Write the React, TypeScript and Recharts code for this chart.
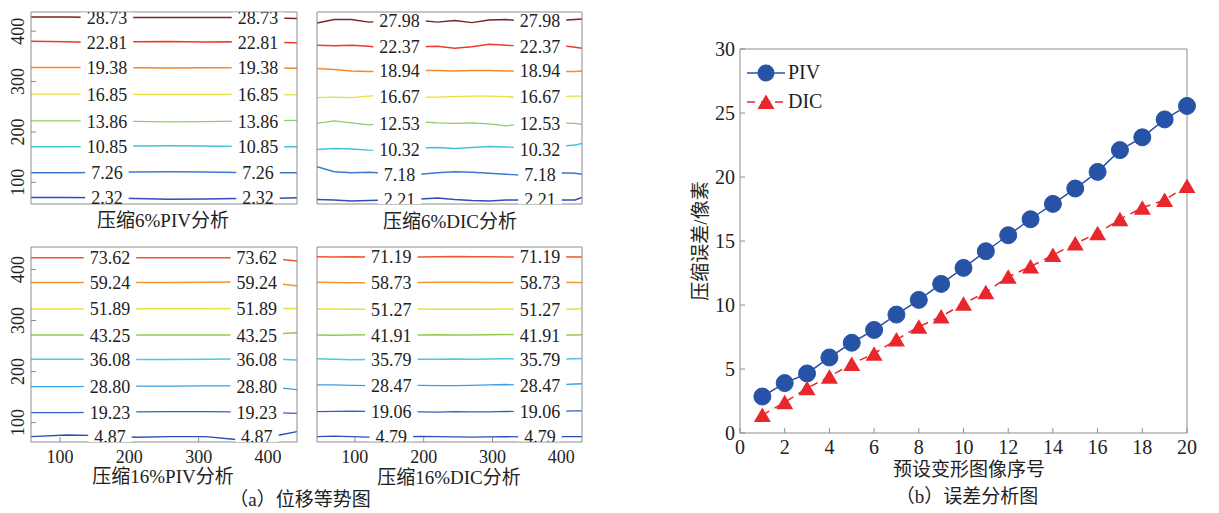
import React from "react";
import { ComposedChart, Line, LineChart, Scatter, XAxis, YAxis } from "recharts";

const W = 1219;
const H = 513;
const SERIF = '"Liberation Serif", "Times New Roman", serif';
const CAPTION_FONT = '"Liberation Serif", "Noto Sans CJK SC", serif';
const AXIS_STROKE = "#8c8c8c";
const TEXT_FILL = "#222";

// ---- (b) error analysis ----
const frames = [1, 2, 3, 4, 5, 6, 7, 8, 9, 10, 11, 12, 13, 14, 15, 16, 17, 18, 19, 20];
const pivError = [2.85, 3.9, 4.65, 5.9, 7.05, 8.05, 9.25, 10.4, 11.65, 12.9, 14.2, 15.45, 16.7, 17.9, 19.1, 20.4, 22.1, 23.1, 24.5, 25.55];
const dicError = [1.4, 2.4, 3.5, 4.4, 5.4, 6.2, 7.3, 8.3, 9.1, 10.1, 11.0, 12.2, 13.0, 13.9, 14.8, 15.6, 16.7, 17.6, 18.2, 19.3];
const errorXTicks = [0, 2, 4, 6, 8, 10, 12, 14, 16, 18, 20];
const errorYTicks = [0, 5, 10, 15, 20, 25, 30];

// ---- (a) contour panels ----
const contourTicks = [100, 200, 300, 400];
const xs17 = [45, 70, 95, 120, 145, 170, 195, 220, 245, 270, 295, 320, 345, 370, 395, 420, 430];

// 6% PIV
const piv6X = [48, 100, 150, 200, 250, 300, 350, 400, 437];
const piv6Levels = ["2.32", "7.26", "10.85", "13.86", "16.85", "19.38", "22.81", "28.73"];
const piv6Lines = [
  [70, 70, 69.5, 68, 66.5, 67, 68, 68, 69.5],
  [119, 119, 119.5, 120.5, 121, 120.5, 119.5, 119, 119],
  [170.5, 170.5, 171, 172, 172.5, 172, 171, 170.5, 170.5],
  [222, 222, 222, 221, 220, 220.5, 221.5, 222.5, 223],
  [275, 275, 275, 274.5, 274.5, 274.5, 274.5, 274, 273.5],
  [328, 328, 328, 327.5, 327, 327.5, 327.5, 327, 326.5],
  [380, 379, 377, 379, 379.5, 378.5, 379, 378, 377],
  [428, 428, 427, 427, 427, 427, 427, 426, 425],
];
const piv6LabelX = [159, 380];
const piv6LabelY = [69, 119, 171, 221, 275, 328, 378, 427];

// 6% DIC
const dic6Levels = ["2.21", "7.18", "10.32", "12.53", "16.67", "18.94", "22.37", "27.98"];
const dic6Lines = [
  [66, 65, 63, 64, 65, 64, 67, 69, 66, 64, 63, 65, 65, 65, 65, 65, 70],
  [131, 121, 119, 120, 118, 114, 116, 119, 121, 120, 118, 116, 114, 115, 119, 118, 116],
  [165, 167, 166, 164, 163, 165, 168, 169, 167, 169, 171, 170, 169, 169, 171, 174, 177],
  [217, 222, 218, 214, 217, 217, 220, 218, 217, 218, 216, 212, 217, 217, 218, 217, 215],
  [268, 269, 268, 271, 273, 271, 269, 269, 270, 271, 271, 270, 268, 269, 270, 271, 271],
  [326, 324, 321, 320, 320, 321, 322, 322, 321, 322, 322, 321, 321, 321, 320, 320, 321],
  [372, 371, 372, 370, 366, 368, 369, 370, 366, 369, 374, 372, 370, 371, 372, 368, 366],
  [416, 423, 423, 418, 420, 421, 421, 418, 421, 417, 422, 423, 420, 421, 421, 423, 424],
];
const dic6LabelX = [165, 369];
const dic6LabelY = [66, 116, 166, 217, 270, 321, 369, 421];

// 16% PIV
const piv16X = [58, 110, 160, 210, 260, 310, 350, 365, 417, 442];
const piv16Levels = ["4.87", "19.23", "28.80", "36.08", "43.25", "51.89", "59.24", "73.62"];
const piv16Lines = [
  [72.5, 75.8, 74.4, 71.2, 72.5, 72.5, 67.3, 64.7, 75.8, 82.3],
  [119.5, 119.5, 120, 121, 121.5, 121.5, 121, 120.5, 119, 118],
  [170.4, 170.5, 171, 171.5, 171.5, 172, 172, 172, 168, 164.5],
  [224, 224, 224, 223.5, 223.5, 224, 224.5, 225, 224, 222.5],
  [271.5, 271.5, 271.5, 271.5, 271.5, 271.5, 271.5, 272, 274, 276],
  [322.4, 322.6, 323, 323, 323, 323, 323.5, 323.5, 323.5, 323.5],
  [374.6, 374.6, 374.6, 374.6, 374.6, 375, 375.5, 376, 372, 367.5],
  [422.8, 422.8, 422.8, 423, 423, 423, 423, 423, 420, 416.5],
];
const piv16LabelX = [172, 384];
const piv16LabelY = [72, 119.5, 171, 224, 271.5, 323, 375, 423];

// 16% DIC
const dic16Levels = ["4.79", "19.06", "28.47", "35.79", "41.91", "51.27", "58.73", "71.19"];
const dic16Lines = [
  [72.5, 73.5, 72.5, 71.5, 72, 72, 73, 72.5, 72, 71.5, 72, 72.5, 72, 72, 72.5, 72.5, 72.5],
  [121.5, 122, 122.5, 122, 121.5, 122, 121, 120.5, 121.5, 121, 121, 122, 121.5, 121.5, 122, 123, 123],
  [174, 174, 173, 172.5, 173, 173.5, 173, 172.5, 172.5, 173, 174, 174.5, 173.5, 174, 174, 175.5, 176],
  [225, 224, 223, 223.5, 224, 224, 224, 224, 224.5, 224, 224.5, 225, 224.5, 224.5, 224, 225, 225.5],
  [271.5, 271, 271.5, 272, 272, 271.5, 271.5, 272, 271.5, 271.5, 272, 272.5, 272, 271.5, 271.5, 271.5, 272],
  [322.5, 322.5, 322, 322, 322.5, 322.5, 322.5, 322, 322, 322, 322, 322.5, 322.5, 322.5, 322.5, 322, 323.5],
  [375, 374.5, 374, 374, 374.5, 374.5, 374.5, 375, 375, 375, 374.5, 374.5, 374.5, 375, 375, 374.5, 374.5],
  [425, 424.5, 425, 424.5, 424.5, 424.5, 424.5, 425, 425.5, 425, 425, 424.5, 424.5, 425, 425, 424.5, 424.5],
];
const dic16LabelX = [153, 369];
const dic16LabelY = [73, 121.5, 173.5, 224, 271.5, 322.5, 374.5, 424.5];

const COLORS_6 = ["#2c4fb8", "#3a78d4", "#45c2e0", "#8ccd66", "#e6df3c", "#f58a30", "#ee3a2a", "#7a2323"];
const COLORS_16 = ["#2c4fb8", "#2f62c8", "#3aa0e6", "#4cc8e2", "#92cc4e", "#e8e040", "#f59232", "#f0552c"];

const PIV_BLUE = "#2753a6";
const DIC_RED = "#e8262b";

function RotatedTick(props: any) {
  const { y, payload } = props;
  return (
    <text
      transform={`translate(18,${y}) rotate(-90)`}
      textAnchor="middle"
      dominantBaseline="central"
      fontSize={18}
      fontFamily={SERIF}
      fill={TEXT_FILL}
    >
      {payload.value}
    </text>
  );
}

function ContourLabel(props: any) {
  const { cx, cy, payload } = props;
  const w = (payload.t.length - 1) * 9 + 4.5 + 12;
  return (
    <g>
      <rect x={cx - w / 2} y={cy - 5} width={w} height={10} fill="#ffffff" />
      <text x={cx} y={cy + 0.5} textAnchor="middle" dominantBaseline="central" fontSize={18} fontFamily={SERIF} fill={TEXT_FILL}>
        {payload.t}
      </text>
    </g>
  );
}

interface Box {
  left: number;
  top: number;
  right: number;
  bottom: number;
}

interface ContourPanelProps {
  box: Box;
  xDomain: [number, number];
  yDomain: [number, number];
  xs: number[];
  lines: number[][];
  levels: string[];
  labelX: number[];
  labelY: number[];
  colors: string[];
  showXLabels: boolean;
  showYLabels: boolean;
}

function ContourPanel({ box, xDomain, yDomain, xs, lines, levels, labelX, labelY, colors, showXLabels, showYLabels }: ContourPanelProps) {
  const labels = levels.flatMap((t, i) => labelX.map((x) => ({ x, y: labelY[i], t })));
  return (
    <div style={{ position: "absolute", left: 0, top: 0 }}>
      <ComposedChart
        width={W}
        height={H}
        margin={{ top: box.top - 1, left: box.left - 1, right: W - box.right - 1, bottom: H - box.bottom - 1 }}
      >
        <XAxis
          xAxisId="b"
          type="number"
          dataKey="x"
          domain={xDomain}
          allowDataOverflow
          ticks={contourTicks}
          height={1}
          tickSize={-5}
          tickMargin={13}
          stroke={AXIS_STROKE}
          tick={showXLabels ? { fill: TEXT_FILL, fontSize: 18, fontFamily: SERIF } : false}
        />
        <XAxis xAxisId="t" orientation="top" type="number" dataKey="x" domain={xDomain} allowDataOverflow ticks={contourTicks} height={1} tickSize={-5} stroke={AXIS_STROKE} tick={false} />
        <YAxis
          yAxisId="l"
          type="number"
          dataKey="y"
          domain={yDomain}
          allowDataOverflow
          ticks={contourTicks}
          width={1}
          tickSize={-5}
          stroke={AXIS_STROKE}
          tick={showYLabels ? <RotatedTick /> : false}
        />
        <YAxis yAxisId="r" orientation="right" type="number" dataKey="y" domain={yDomain} allowDataOverflow ticks={contourTicks} width={1} tickSize={-5} stroke={AXIS_STROKE} tick={false} />
        {lines.map((ys, i) => (
          <Line
            key={levels[i]}
            xAxisId="b"
            yAxisId="l"
            data={xs.map((x, j) => ({ x, y: ys[j] }))}
            dataKey="y"
            stroke={colors[i]}
            strokeWidth={1.4}
            dot={false}
            isAnimationActive={false}
          />
        ))}
        <Scatter xAxisId="b" yAxisId="l" data={labels} dataKey="y" shape={ContourLabel} isAnimationActive={false} />
      </ComposedChart>
    </div>
  );
}

function TriangleDot(props: any) {
  const { cx, cy, index } = props;
  if (cx == null || cy == null) return null;
  return <polygon key={index} points={`${cx},${cy - 7.5} ${cx - 8.5},${cy + 7} ${cx + 8.5},${cy + 7}`} fill={DIC_RED} />;
}

function ErrorChart() {
  const data = frames.map((frame, i) => ({ frame, piv: pivError[i], dic: dicError[i] }));
  const plot = { left: 740, top: 49, right: 1187, bottom: 433 };
  return (
    <div style={{ position: "absolute", left: 0, top: 0 }}>
      <LineChart
        width={W}
        height={H}
        data={data}
        margin={{ top: plot.top - 1, left: plot.left - 1, right: W - plot.right - 1, bottom: H - plot.bottom - 1 }}
      >
        <XAxis
          xAxisId="b"
          type="number"
          dataKey="frame"
          domain={[0, 20]}
          ticks={errorXTicks}
          height={1}
          tickSize={-5}
          tickMargin={12}
          stroke={AXIS_STROKE}
          tick={{ fill: TEXT_FILL, fontSize: 20, fontFamily: SERIF }}
        />
        <XAxis xAxisId="t" orientation="top" type="number" dataKey="frame" domain={[0, 20]} allowDataOverflow ticks={errorXTicks} height={1} tickSize={-5} stroke={AXIS_STROKE} tick={false} />
        <YAxis
          yAxisId="l"
          type="number"
          domain={[0, 30]}
          ticks={errorYTicks}
          width={1}
          tickSize={-5}
          tickMargin={10}
          stroke={AXIS_STROKE}
          tick={{ fill: TEXT_FILL, fontSize: 20, fontFamily: SERIF }}
        />
        <YAxis yAxisId="r" orientation="right" type="number" domain={[0, 30]} allowDataOverflow ticks={errorYTicks} width={1} tickSize={-5} stroke={AXIS_STROKE} tick={false} />
        <Line
          xAxisId="b"
          yAxisId="l"
          dataKey="piv"
          stroke={PIV_BLUE}
          strokeWidth={1.5}
          dot={{ r: 8.5, fill: PIV_BLUE, stroke: PIV_BLUE, strokeWidth: 1 }}
          isAnimationActive={false}
        />
        <Line
          xAxisId="b"
          yAxisId="l"
          dataKey="dic"
          stroke={DIC_RED}
          strokeWidth={1.5}
          strokeDasharray="8 6"
          dot={TriangleDot}
          isAnimationActive={false}
        />
      </LineChart>
    </div>
  );
}

function ErrorLegend() {
  const rowStyle: React.CSSProperties = { display: "flex", alignItems: "center", height: 29 };
  const textStyle: React.CSSProperties = { fontFamily: SERIF, fontSize: 20, color: TEXT_FILL, marginLeft: 3 };
  return (
    <div style={{ position: "absolute", left: 745, top: 58 }}>
      <div style={rowStyle}>
        <svg width={40} height={22}>
          <line x1={2} y1={11} x2={40} y2={11} stroke={PIV_BLUE} strokeWidth={1.5} />
          <circle cx={21} cy={11} r={8.5} fill={PIV_BLUE} />
        </svg>
        <span style={textStyle}>PIV</span>
      </div>
      <div style={rowStyle}>
        <svg width={40} height={22}>
          <line x1={2} y1={11} x2={40} y2={11} stroke={DIC_RED} strokeWidth={1.5} strokeDasharray="8 6" />
          <polygon points="21,3.5 12.5,18 29.5,18" fill={DIC_RED} />
        </svg>
        <span style={textStyle}>DIC</span>
      </div>
    </div>
  );
}

function Caption({ x, y, text, rotate }: { x: number; y: number; text: string; rotate?: boolean }) {
  return (
    <div
      style={{
        position: "absolute",
        left: x - 150,
        top: y - 12,
        width: 300,
        height: 24,
        lineHeight: "24px",
        textAlign: "center",
        fontSize: 19,
        fontFamily: CAPTION_FONT,
        color: TEXT_FILL,
        whiteSpace: "nowrap",
        transform: rotate ? "rotate(-90deg)" : undefined,
      }}
    >
      {text}
    </div>
  );
}

export default function App() {
  return (
    <div style={{ position: "absolute", left: 0, top: 0, width: W, height: H, background: "#fff", overflow: "hidden" }}>
      <ContourPanel
        box={{ left: 31, top: 12, right: 297, bottom: 204 }}
        xDomain={[48, 437]}
        yDomain={[57, 438]}
        xs={piv6X}
        lines={piv6Lines}
        levels={piv6Levels}
        labelX={piv6LabelX}
        labelY={piv6LabelY}
        colors={COLORS_6}
        showXLabels={false}
        showYLabels
      />
      <ContourPanel
        box={{ left: 317, top: 12, right: 582, bottom: 204 }}
        xDomain={[45, 430]}
        yDomain={[57, 438]}
        xs={xs17}
        lines={dic6Lines}
        levels={dic6Levels}
        labelX={dic6LabelX}
        labelY={dic6LabelY}
        colors={COLORS_6}
        showXLabels={false}
        showYLabels={false}
      />
      <ContourPanel
        box={{ left: 31, top: 247, right: 297, bottom: 442 }}
        xDomain={[58, 442]}
        yDomain={[62, 444]}
        xs={piv16X}
        lines={piv16Lines}
        levels={piv16Levels}
        labelX={piv16LabelX}
        labelY={piv16LabelY}
        colors={COLORS_16}
        showXLabels
        showYLabels
      />
      <ContourPanel
        box={{ left: 317, top: 247, right: 582, bottom: 442 }}
        xDomain={[45, 430]}
        yDomain={[62, 444]}
        xs={xs17}
        lines={dic16Lines}
        levels={dic16Levels}
        labelX={dic16LabelX}
        labelY={dic16LabelY}
        colors={COLORS_16}
        showXLabels
        showYLabels={false}
      />
      <ErrorChart />
      <ErrorLegend />
      <Caption x={163} y={221} text="压缩6%PIV分析" />
      <Caption x={450} y={222} text="压缩6%DIC分析" />
      <Caption x={163} y={477} text="压缩16%PIV分析" />
      <Caption x={449} y={478} text="压缩16%DIC分析" />
      <Caption x={300} y={500} text="（a）位移等势图" />
      <Caption x={969} y={470} text="预设变形图像序号" />
      <Caption x={967} y={497} text="（b）误差分析图" />
      <Caption x={701} y={241} text="压缩误差/像素" rotate />
    </div>
  );
}
